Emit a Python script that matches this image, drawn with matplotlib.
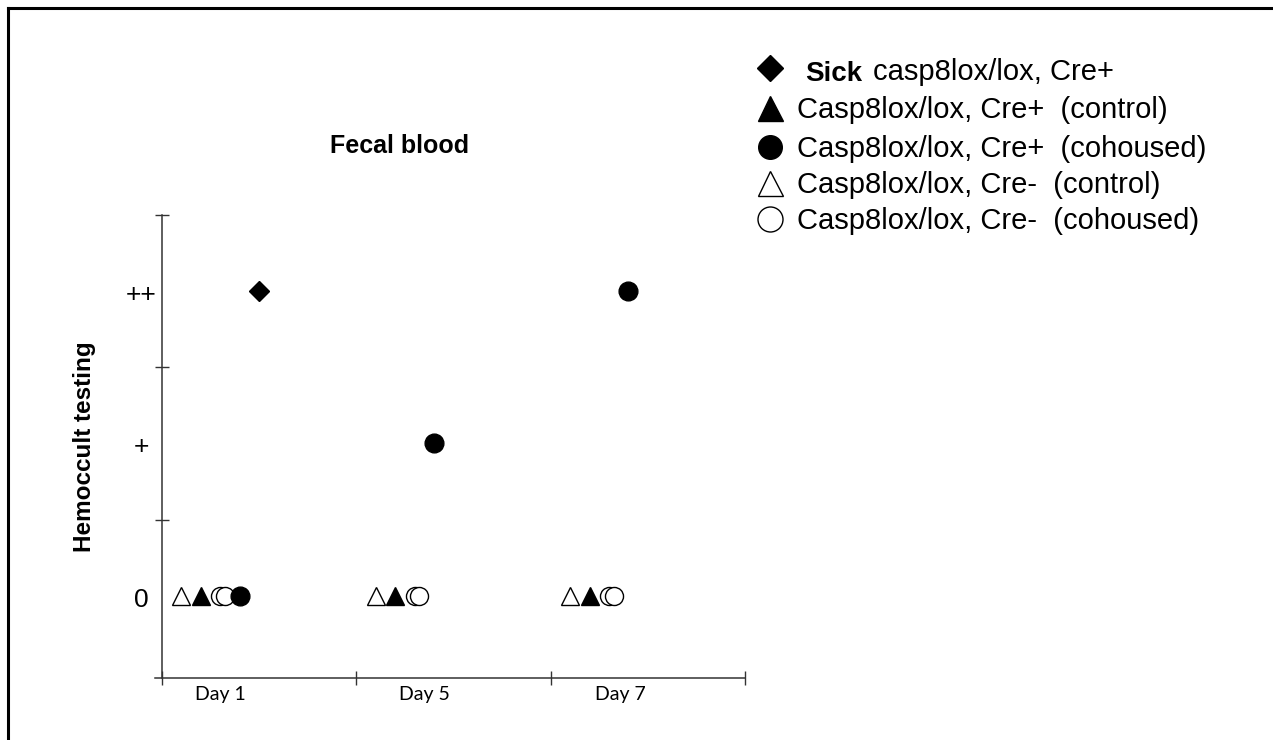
import matplotlib
matplotlib.use("Agg")
import matplotlib.pyplot as plt
from matplotlib.lines import Line2D
from matplotlib import transforms
import numpy as np

# ---- data ----
days = ["Day 1", "Day 5", "Day 7"]
score_labels = ["0", "+", "++"]          # score levels 0, 1, 2
sick_cre_pos = [2, None, None]            # Sick casp8lox/lox, Cre+
cre_pos_control = [0, 0, 0]               # Casp8lox/lox, Cre+ (control)
cre_pos_cohoused = [0, 1, 2]              # Casp8lox/lox, Cre+ (cohoused)
cre_neg_control = [0, 0, 0]               # Casp8lox/lox, Cre- (control)
cre_neg_cohoused_a = [0, 0, 0]            # Casp8lox/lox, Cre- (cohoused), mouse a
cre_neg_cohoused_b = [0, 0, 0]            # Casp8lox/lox, Cre- (cohoused), mouse b

plt.rcParams['font.family'] = ['Liberation Sans', 'DejaVu Sans']

W, H = 1273, 740
fig = plt.figure(figsize=(W / 100, H / 100), dpi=100)

def fx(px):
    return px / W

def fy(py):
    return 1 - py / H

# axes area in pixels
ax = fig.add_axes([fx(155), fy(678), fx(745) - fx(155), fy(215) - fy(678)])
ax.set_xlim(-0.036, 3.0)
ax.set_ylim(-0.54, 2.5)

# series with style (offset within each day group)
series = [
    (cre_neg_control, 0.10, dict(marker='^', mfc='white', mec='black', ms=13, mew=1.0)),
    (cre_pos_control, 0.20, dict(marker='^', mfc='black', mec='black', ms=13, mew=1.0)),
    (cre_neg_cohoused_a, 0.30, dict(marker='o', mfc='white', mec='black', ms=13, mew=1.0)),
    (cre_neg_cohoused_b, 0.325, dict(marker='o', mfc='white', mec='black', ms=13, mew=1.0)),
    (cre_pos_cohoused, 0.40, dict(marker='o', mfc='black', mec='black', ms=13.5, mew=1.0)),
    (sick_cre_pos, 0.50, dict(marker='D', mfc='black', mec='black', ms=10.5, mew=1.0)),
]
for vals, off, st in series:
    xs = [i + off for i, v in enumerate(vals) if v is not None]
    ys = [v for v in vals if v is not None]
    ax.plot(xs, ys, linestyle='none', zorder=3, **st)

# spines
for s in ['top', 'right']:
    ax.spines[s].set_visible(False)
ax.spines['left'].set_position(('data', 0))
for s in ['left', 'bottom']:
    ax.spines[s].set_color('#333333')
    ax.spines[s].set_linewidth(1.1)

# y ticks: separators at half levels; level labels drawn as text
ax.set_yticks([0.5, 1.5, 2.5])
ax.set_yticklabels([])
ax.tick_params(axis='y', which='major', direction='inout', length=9.5, width=1.0, color='#333333')
ylab_tr = transforms.blended_transform_factory(fig.transFigure, ax.transData) + \
    transforms.ScaledTranslation(0, -4 / 100, fig.dpi_scale_trans)
for lvl, lab in enumerate(score_labels):
    ax.text(fx(141), lvl, lab, transform=ylab_tr, fontsize=19,
            ha='center', va='center', clip_on=False)

# x ticks: separators at group boundaries, labels near the left of each group
day_label_pos = [0.30, 1.35, 2.36]
ax.set_xticks(np.arange(len(days) + 1))
ax.set_xticklabels([])
ax.set_xticks(day_label_pos, minor=True)
ax.set_xticklabels(days, minor=True, fontfamily=['Lato', 'DejaVu Sans'], fontsize=14)
ax.tick_params(axis='x', which='major', direction='inout', length=9.5, width=1.0, color='#333333')
ax.tick_params(axis='x', which='minor', length=0, pad=6)

fig.text(fx(85), fy(447), "Hemoccult testing", rotation=90, fontsize=17.5,
         fontweight='bold', ha='center', va='center')

fig.text(fx(400), fy(146), "Fecal blood", fontsize=18, fontweight='bold',
         ha='center', va='center')

# legend drawn manually
leg_rows = [
    (68, 80, dict(marker='D', mfc='black', mec='black', ms=13.5)),
    (108, 118, dict(marker='^', mfc='black', mec='black', ms=18)),
    (147, 157, dict(marker='o', mfc='black', mec='black', ms=17)),
    (183, 193, dict(marker='^', mfc='white', mec='black', ms=18, mew=1.0)),
    (219, 229, dict(marker='o', mfc='white', mec='black', ms=18, mew=1.0)),
]
leg_texts = [
    None,
    "Casp8lox/lox, Cre+  (control)",
    "Casp8lox/lox, Cre+  (cohoused)",
    "Casp8lox/lox, Cre-  (control)",
    "Casp8lox/lox, Cre-  (cohoused)",
]
for (my, by, st), txt in zip(leg_rows, leg_texts):
    fig.add_artist(Line2D([fx(770)], [fy(my)], transform=fig.transFigure,
                          linestyle='none', **st))
    if txt is not None:
        fig.text(fx(797), fy(by), txt, fontsize=21, ha='left', va='baseline')
fig.text(fx(805), fy(81), "Sick", fontsize=20, fontweight='bold', ha='left', va='baseline')
fig.text(fx(873), fy(80), "casp8lox/lox, Cre+", fontsize=21, ha='left', va='baseline')

# frame lines (top and left)
fig.add_artist(Line2D([fx(8), 1], [fy(8), fy(8)], transform=fig.transFigure,
                      color='black', linewidth=2.2))
fig.add_artist(Line2D([fx(8), fx(8)], [0, fy(8)], transform=fig.transFigure,
                      color='black', linewidth=2.2))

fig.savefig("out.png", dpi=100)
